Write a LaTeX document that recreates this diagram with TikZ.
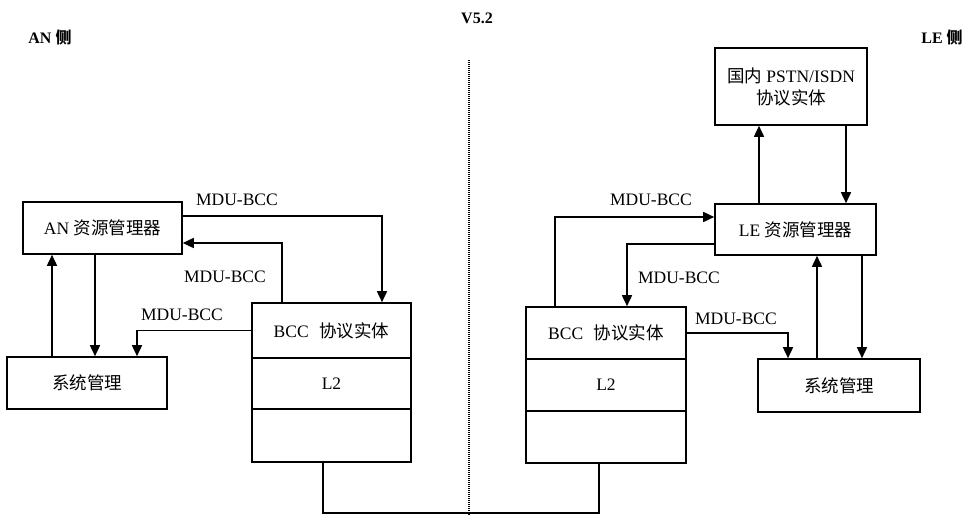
\documentclass[tikz,border=0pt]{standalone}
\usepackage{fontspec}
\setmainfont{Liberation Serif}
\newfontfamily\cjk{Noto Sans CJK SC}
\usetikzlibrary{arrows.meta}
\newcommand{\zh}[1]{{\cjk #1}}
\begin{document}
\begin{tikzpicture}[x=1pt,y=-1pt,
  box/.style={draw,line width=1.6pt,inner sep=0pt,font=\fontsize{17.5}{22}\selectfont,align=center},
  lbl/.style={font=\fontsize{17.5}{20}\selectfont,inner sep=0pt},
  head/.style={font=\bfseries\fontsize{16}{19}\selectfont,inner sep=0pt},
  conn/.style={line width=1.6pt},
  arr/.style={conn,-{Triangle[length=11pt,width=10pt]}}
]
\useasboundingbox (0,0) rectangle (974,516);

% headers
\node[head] (anside) at (50,37) {AN \zh{侧}};
\node[head] (v52) at (477,18) {V5.2};
\node[head] (leside) at (942,37) {LE \zh{侧}};
\coordinate (dtop) at (469,60);
\coordinate (dbot) at (469,516);
\draw[line width=1.2pt,dash pattern=on 1pt off 1pt] (dtop) -- (dbot);

% left side boxes
\node[box,minimum width=159pt,minimum height=52pt] (an) at (102.5,228) {AN \zh{资源管理器}};
\node[box,minimum width=160pt,minimum height=52pt] (sysL) at (87,383) {\zh{系统管理}};
\node[box,minimum width=159pt,minimum height=55pt] (bccLt) at (331.5,330.5) {BCC\hspace{0.6em}\zh{协议实体}};
\node[box,minimum width=159pt,minimum height=51pt] (bccLm) at (331.5,383.5) {L2};
\node[box,minimum width=159pt,minimum height=53pt] (bccLe) at (331.5,435.5) {};

% right side boxes
\node[box,minimum width=152pt,minimum height=77pt] (pstn) at (791,86.5) {\zh{国内} PSTN/ISDN\\\zh{协议实体}};
\node[box,minimum width=161pt,minimum height=51pt] (le) at (795.5,229.5) {LE \zh{资源管理器}};
\node[box,minimum width=160pt,minimum height=52pt] (bccRt) at (606,333) {BCC\hspace{0.6em}\zh{协议实体}};
\node[box,minimum width=160pt,minimum height=52pt] (bccRm) at (606,385) {L2};
\node[box,minimum width=160pt,minimum height=52pt] (bccRe) at (606,437) {};
\node[box,minimum width=162pt,minimum height=53pt] (sysR) at (839,385.5) {\zh{系统管理}};

% helper coordinates
\coordinate (h216) at (0,216);
\coordinate (h243) at (0,243);
\coordinate (h217) at (0,217);
\coordinate (h244) at (0,244);
\coordinate (h513) at (0,513);
\coordinate (v382) at (382,0);
\coordinate (v282) at (282,0);
\coordinate (v137) at (137,0);
\coordinate (v52) at (52,0);
\coordinate (v95) at (95,0);
\coordinate (v323) at (323,0);
\coordinate (v599) at (599,0);
\coordinate (v555) at (555,0);
\coordinate (v627) at (627,0);
\coordinate (v788) at (788,0);
\coordinate (v817) at (817,0);
\coordinate (v862) at (862,0);
\coordinate (v759) at (759,0);
\coordinate (v846) at (846,0);

% left connectors
\draw[arr] (an.east |- h216) -| (bccLt.north -| v382);
\draw[arr] (bccLt.north -| v282) |- (an.east |- h243);
\draw[arr] (bccLt.west) -| (sysL.north -| v137);
\draw[arr] (sysL.north -| v52) -- (an.south -| v52);
\draw[arr] (an.south -| v95) -- (sysL.north -| v95);

% bottom link
\draw[conn] (bccLe.south -| v323) |- (h513 -| v599) -- (bccRe.south -| v599);

% right connectors
\draw[arr] (bccRt.north -| v555) |- (le.west |- h217);
\draw[arr] (le.west |- h244) -| (bccRt.north -| v627);
\draw[arr] (bccRt.east) -| (sysR.north -| v788);
\draw[arr] (sysR.north -| v817) -- (le.south -| v817);
\draw[arr] (le.south -| v862) -- (sysR.north -| v862);
\draw[arr] (le.north -| v759) -- (pstn.south -| v759);
\draw[arr] (pstn.south -| v846) -- (le.north -| v846);

% labels
\node[lbl] (l1) at (237,200) {MDU-BCC};
\node[lbl] (l2) at (225,277) {MDU-BCC};
\node[lbl] (l3) at (182,315) {MDU-BCC};
\node[lbl] (l4) at (651,200) {MDU-BCC};
\node[lbl] (l5) at (679,278) {MDU-BCC};
\node[lbl] (l6) at (736,319) {MDU-BCC};
\end{tikzpicture}
\end{document}
